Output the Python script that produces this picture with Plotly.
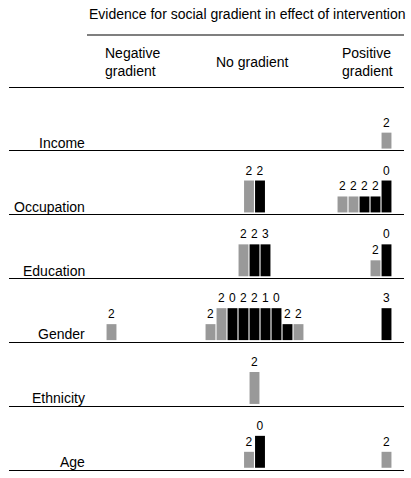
import plotly.graph_objects as go

# ---------------- data ----------------
row_names = ["Income", "Occupation", "Education", "Gender", "Ethnicity", "Age"]
col_names = ["Negative<br>gradient", "No gradient", "Positive<br>gradient"]
title_text = "Evidence for social gradient in effect of intervention"

# one entry per bar (row, column, colour kind, height class, label)
bar_row = [
    "Income",
    "Occupation", "Occupation", "Occupation", "Occupation", "Occupation", "Occupation", "Occupation",
    "Education", "Education", "Education", "Education", "Education",
    "Gender", "Gender", "Gender", "Gender", "Gender", "Gender", "Gender", "Gender", "Gender", "Gender", "Gender",
    "Ethnicity",
    "Age", "Age", "Age",
]
bar_col = [
    "pos",
    "none", "none", "pos", "pos", "pos", "pos", "pos",
    "none", "none", "none", "pos", "pos",
    "neg", "none", "none", "none", "none", "none", "none", "none", "none", "none", "pos",
    "none",
    "none", "none", "pos",
]
bar_kind = [
    "grey",
    "grey", "black", "grey", "grey", "black", "black", "black",
    "grey", "black", "black", "grey", "black",
    "grey", "grey", "grey", "black", "black", "black", "black", "black", "black", "grey", "black",
    "grey",
    "grey", "black", "grey",
]
bar_height = [
    1,
    2, 2, 1, 1, 1, 1, 2,
    2, 2, 2, 1, 2,
    1, 1, 2, 2, 2, 2, 2, 2, 1, 1, 2,
    2,
    1, 2, 1,
]
bar_label = [
    "2",
    "2", "2", "2", "2", "2", "2", "0",
    "2", "2", "3", "2", "0",
    "2", "2", "2", "0", "2", "2", "1", "0", "2", "2", "3",
    "2",
    "2", "0", "2",
]

# ---------------- layout helpers ----------------
ROW_H = 4            # y units per row
BASE_GAP = 0.14      # gap between separator line and bar bottom
col_anchor = {"neg": -13, "none": 0, "pos": 12}
col_align = {"neg": "left", "none": "center", "pos": "right"}
colors = {"grey": "#999999", "black": "#000000"}

n_rows = len(row_names)
row_bottom = {r: (n_rows - 1 - i) * ROW_H for i, r in enumerate(row_names)}

# compute slot position for each bar within its (row, column) group
groups = {}
for i, (r, c) in enumerate(zip(bar_row, bar_col)):
    groups.setdefault((r, c), []).append(i)
bar_x = [0.0] * len(bar_row)
for (r, c), idx in groups.items():
    n = len(idx)
    for k, i in enumerate(idx):
        if col_align[c] == "center":
            bar_x[i] = col_anchor[c] + k - (n - 1) / 2
        elif col_align[c] == "right":
            bar_x[i] = col_anchor[c] - (n - 1 - k)
        else:
            bar_x[i] = col_anchor[c] + k

fig = go.Figure()
for kind in ["grey", "black"]:
    ids = [i for i, k in enumerate(bar_kind) if k == kind]
    fig.add_trace(go.Bar(
        x=[bar_x[i] for i in ids],
        y=[bar_height[i] for i in ids],
        base=[row_bottom[bar_row[i]] + BASE_GAP for i in ids],
        text=[bar_label[i] for i in ids],
        textposition="outside",
        constraintext="none",
        cliponaxis=False,
        textfont=dict(family="Liberation Sans, Arial, sans-serif", size=12, color="#000"),
        marker=dict(color=colors[kind], line=dict(width=0)),
        width=0.9,
        showlegend=False,
        hoverinfo="skip",
    ))

PX_PER_X = 11.0
X0_PX = 254.5
PX_PER_Y = 383 / 24.0
W, H = 411, 478
ML, MR = 9, 7

def xd(px):
    return (px - X0_PX) / PX_PER_X

def yd(px):
    return (470 - px) / PX_PER_Y

font = dict(family="Liberation Sans, Arial, sans-serif", size=14, color="#000")

annotations = []
# title
annotations.append(dict(x=xd(87), y=yd(13.5), text=title_text, showarrow=False,
                        xanchor="left", yanchor="middle", font=font))
# column headers
col_pos = [(xd(103), "left"), (xd(251.5), "center"), (xd(340), "left")]
for name, (xx, anc) in zip(col_names, col_pos):
    annotations.append(dict(x=xx, y=yd(61.5), text=name, showarrow=False,
                            xanchor=anc, yanchor="middle", align="left", font=font))
# row labels
for r in row_names:
    annotations.append(dict(x=xd(86.5), y=row_bottom[r] + 0.5, text=r, showarrow=False,
                            xanchor="right", yanchor="middle", font=font))

fig.update_layout(
    width=W, height=H,
    margin=dict(l=ML, r=MR, t=0, b=0),
    paper_bgcolor="white", plot_bgcolor="white",
    barmode="overlay",
    annotations=annotations,
    shapes=[dict(type="line", xref="x", yref="y", x0=xd(87), x1=xd(405),
                 y0=yd(35), y1=yd(35), line=dict(color="#000", width=1.2))],
    xaxis=dict(range=[xd(ML), xd(W - MR)], showgrid=False, zeroline=False,
               showticklabels=False, ticks="", showline=False, fixedrange=True),
    yaxis=dict(range=[yd(H), yd(0)], tickvals=[i * ROW_H for i in range(n_rows + 1)],
               showgrid=True, gridcolor="#000", gridwidth=1.2, zeroline=False,
               showticklabels=False, ticks="", showline=False, fixedrange=True),
)

fig.write_html("out.html", config={"displayModeBar": False},
               post_script="document.body.style.margin='0';document.body.style.overflow='hidden';")
